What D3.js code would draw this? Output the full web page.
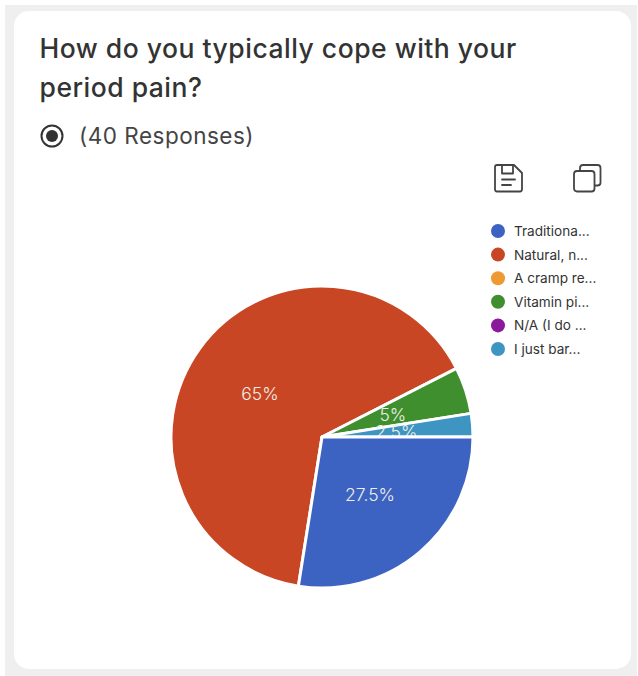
<!DOCTYPE html>
<html>
<head>
<meta charset="utf-8">
<script src="https://cdn.jsdelivr.net/npm/d3@7"></script>
<style>
  html, body { margin: 0; padding: 0; background: #fff; }
  svg { display: block; font-family: Inter, "Noto Sans", sans-serif; }
</style>
</head>
<body>
<svg id="chart" width="638" height="676"></svg>
<script>
// Survey answers, in pie order
const categories = ["Traditiona...", "Natural, n...", "A cramp re...", "Vitamin pi...", "N/A (I do ...", "I just bar..."];
const percentages = [27.5, 65, 0, 5, 0, 2.5];
const colors = ["#3c62c2", "#c84624", "#ee9a33", "#3f8f2f", "#8a1a9b", "#3f95c1"];
const titleLines = ["How do you typically cope with your", "period pain?"];
const responseText = "(40 Responses)";

const svg = d3.select("#chart");

// Page backdrop and rounded card
svg.append("rect").attr("x", 5).attr("y", 5).attr("width", 632).attr("height", 671).attr("fill", "#efefef");
svg.append("rect").attr("x", 14).attr("y", 11).attr("width", 617).attr("height", 658).attr("rx", 15).attr("fill", "#fff");

// Heading
svg.selectAll("text.title").data(titleLines).join("text")
  .attr("class", "title")
  .attr("x", 39.5)
  .attr("y", (d, i) => 57.5 + i * 39)
  .attr("font-size", 26.5)
  .attr("letter-spacing", 0.5)
  .attr("font-weight", 500)
  .attr("fill", "#333")
  .text(d => d);

// Radio marker and response count
svg.append("circle").attr("cx", 52).attr("cy", 136).attr("r", 10.5)
  .attr("fill", "none").attr("stroke", "#333").attr("stroke-width", 2);
svg.append("circle").attr("cx", 52).attr("cy", 136).attr("r", 6).attr("fill", "#333");
svg.append("text").attr("x", 79).attr("y", 144)
  .attr("font-size", 22.5).attr("letter-spacing", 0.5).attr("fill", "#444").text(responseText);

// Save icon
const save = svg.append("g").attr("transform", "translate(495,165)")
  .attr("fill", "none").attr("stroke", "#444").attr("stroke-width", 1.8).attr("stroke-linejoin", "round").attr("stroke-linecap", "round");
save.append("path").attr("d", "M2 0H19L27 8V24Q27 26.500 25 26.500H2Q0 26.500 0 24V2Q0 0 2 0Z");
save.append("path").attr("d", "M7 0V8.500H18V0");
save.append("path").attr("d", "M7 14.500H20M7 20H16");

// Copy icon
const copy = svg.append("g").attr("transform", "translate(574,165)")
  .attr("fill", "none").attr("stroke", "#444").attr("stroke-width", 1.8).attr("stroke-linejoin", "round");
copy.append("rect").attr("x", 0).attr("y", 6).attr("width", 20.5).attr("height", 20.5).attr("rx", 3);
copy.append("path").attr("d", "M6 6V3Q6 0 9 0H23.500Q26.500 0 26.500 3V17.500Q26.500 20.500 23.500 20.500H20.500");

// Pie, running clockwise from three o'clock
const center = [322, 437];
const radius = 151;
const rows = categories.map((name, i) => ({ name, value: percentages[i], color: colors[i] }));
const arcs = d3.pie().value(d => d.value).sort(null)
  .startAngle(Math.PI / 2).endAngle(Math.PI / 2 + 2 * Math.PI)(rows);
const arc = d3.arc().innerRadius(0).outerRadius(radius);
const labelArc = d3.arc().innerRadius(radius * 0.5).outerRadius(radius * 0.5);

const pie = svg.append("g").attr("transform", `translate(${center})`);
const visible = arcs.filter(d => d.data.value > 0);

const drawSlice = d => pie.append("path").datum(d).attr("d", arc)
  .attr("fill", d.data.color).attr("stroke", "#fff").attr("stroke-width", 3).attr("stroke-linejoin", "round");
const drawLabel = d => {
  const [x, y] = labelArc.centroid(d);
  pie.append("text").attr("x", x - 1).attr("y", y + 0.5)
    .attr("text-anchor", "middle").attr("dominant-baseline", "central")
    .attr("font-size", 17.5).attr("font-weight", 300).attr("fill", "#f0f0e8").text(d.data.value + "%");
};

// The blue slice goes last among the slices so it cuts off the thin slice's label
visible.filter(d => d.index !== 0).forEach(drawSlice);
visible.filter(d => d.data.value === 2.5).forEach(drawLabel);
visible.filter(d => d.index === 0).forEach(drawSlice);
visible.filter(d => d.data.value !== 2.5).forEach(drawLabel);

// Legend
const legendY = d3.scalePoint().domain(categories).range([231, 349]);
const legend = svg.selectAll("g.legend").data(rows).join("g")
  .attr("class", "legend")
  .attr("transform", d => `translate(498,${legendY(d.name)})`);
legend.append("circle").attr("r", 7).attr("fill", d => d.color);
legend.append("text").attr("x", 16).attr("y", 5)
  .attr("font-size", 13.6).attr("fill", "#333").text(d => d.name);
</script>
</body>
</html>
